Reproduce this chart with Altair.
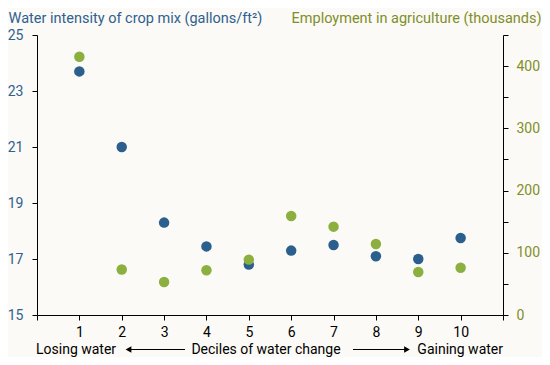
import altair as alt
import pandas as pd

deciles = [1, 2, 3, 4, 5, 6, 7, 8, 9, 10]
water_intensity = [23.7, 21.0, 18.3, 17.45, 16.8, 17.3, 17.5, 17.1, 17.0, 17.75]
employment = [415, 73, 53, 72, 89, 159, 142, 114, 69, 76]

left_ticks = [15, 17, 19, 21, 23, 25]
right_ticks = [0, 50, 100, 150, 200, 250, 300, 350, 400, 450]
x_ticks = list(range(0, 12))

BLUE = "#2b5f8e"
GREEN = "#8bb03f"
BLUE_TXT = "#2f6190"
GREEN_TXT = "#7f8f2a"
FONT = "Roboto"

df = pd.DataFrame({"decile": deciles, "water": water_intensity, "emp": employment})
dummy = pd.DataFrame({"a": [0]})

W, H = 466, 280

x_enc = alt.X(
    "decile:Q",
    scale=alt.Scale(domain=[0, 11], nice=False, zero=False),
    axis=alt.Axis(
        values=x_ticks,
        labelExpr="datum.value >= 1 && datum.value <= 10 ? datum.label : ''",
        title=None,
        grid=False,
        domainColor="black",
        tickColor="black",
        tickSize=5,
        labelColor="black",
        labelFontSize=14,
        labelFont=FONT,
        labelPadding=5,
    ),
)

blue = alt.Chart(df).mark_circle(size=110, opacity=1, color=BLUE).encode(
    x=x_enc,
    y=alt.Y(
        "water:Q",
        scale=alt.Scale(domain=[15, 25], nice=False, zero=False),
        axis=alt.Axis(
            orient="left",
            values=left_ticks,
            grid=False,
            title="Water intensity of crop mix (gallons/ft²)",
            titleAngle=0,
            titleX=-29,
            titleY=-17,
            titleAlign="left",
            titleBaseline="middle",
            titleColor=BLUE_TXT,
            titleFont=FONT,
            titleFontSize=14.5,
            titleFontWeight="normal",
            domainColor="black",
            tickColor="black",
            tickSize=5,
            labelColor=BLUE_TXT,
            labelFont=FONT,
            labelFontSize=14,
            labelPadding=9,
        ),
    ),
)

green = alt.Chart(df).mark_circle(size=110, opacity=1, color=GREEN).encode(
    x=alt.X("decile:Q"),
    y=alt.Y(
        "emp:Q",
        scale=alt.Scale(domain=[0, 450], nice=False),
        axis=alt.Axis(
            orient="right",
            values=right_ticks,
            labelExpr="datum.value % 100 == 0 ? datum.label : ''",
            grid=False,
            title="Employment in agriculture (thousands)",
            titleAngle=0,
            titleX=38,
            titleY=-17,
            titleAlign="right",
            titleBaseline="middle",
            titleColor=GREEN_TXT,
            titleFont=FONT,
            titleFontSize=14.5,
            titleFontWeight="normal",
            domainColor="black",
            tickColor="black",
            tickSize=5,
            labelColor=GREEN_TXT,
            labelFont=FONT,
            labelFontSize=14,
            labelPadding=8,
        ),
    ),
)

ty = 319
texts = []
for label, xpos, align in [
    ("Losing water", -1, "left"),
    ("Deciles of water change", 229, "center"),
    ("Gaining water", 466, "right"),
]:
    texts.append(
        alt.Chart(dummy)
        .mark_text(text=label, align=align, baseline="alphabetic", font=FONT, fontSize=14, color="black")
        .encode(x=alt.value(xpos), y=alt.value(ty))
    )

ay = 314.5
rule_left = alt.Chart(dummy).mark_rule(color="black", strokeWidth=1).encode(
    x=alt.value(91), x2=alt.value(148), y=alt.value(ay)
)
rule_right = alt.Chart(dummy).mark_rule(color="black", strokeWidth=1).encode(
    x=alt.value(316), x2=alt.value(370), y=alt.value(ay)
)
head_left = alt.Chart(dummy).mark_point(shape="triangle-left", filled=True, size=45, color="black", opacity=1).encode(
    x=alt.value(91.5), y=alt.value(ay)
)
head_right = alt.Chart(dummy).mark_point(shape="triangle-right", filled=True, size=45, color="black", opacity=1).encode(
    x=alt.value(370), y=alt.value(ay)
)

chart = (
    alt.layer(blue, green, rule_left, rule_right, head_left, head_right, *texts)
    .resolve_scale(y="independent")
    .properties(
        width=W,
        height=H,
        autosize=alt.AutoSizeParams(type="none"),
        padding={"left": 29, "top": 27, "right": 39, "bottom": 42},
    )
    .configure(background="#fbfaf6")
    .configure_view(stroke=None)
)

chart.save("out.html", embed_options={"renderer": "svg", "actions": False})
